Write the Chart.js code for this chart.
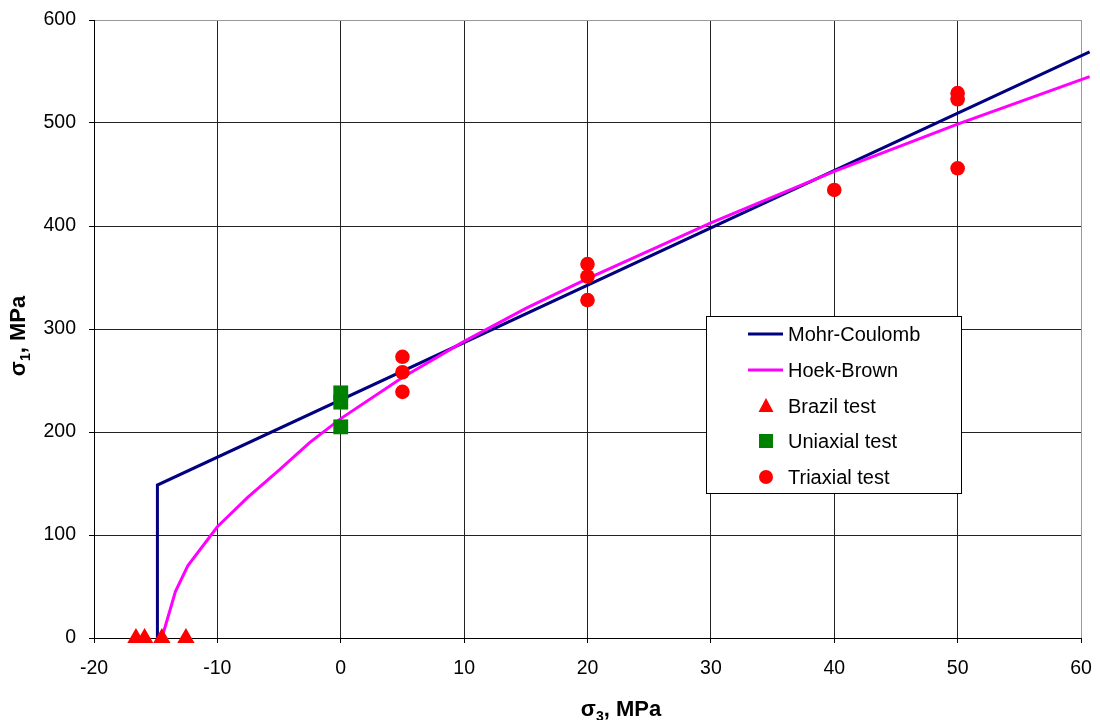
<!DOCTYPE html>
<html>
<head>
<meta charset="utf-8">
<script src="https://cdn.jsdelivr.net/npm/chart.js@4.4.1/dist/chart.umd.min.js"></script>
<style>
html, body { margin: 0; padding: 0; background: #fff; }
#wrap { width: 1100px; height: 720px; }
</style>
</head>
<body>
<div id="wrap"><canvas id="c" width="1100" height="720"></canvas></div>
<script>
// values (sigma3, sigma1 in MPa)
var mohrX = [-14.86, -14.86, 60.7];
var mohrY = [0, 148.5, 569];
var hoekX = [-14.5, -13.4, -12.4, -10, -7.5, -5, -2.5, 0, 5, 10, 15, 20, 30, 40, 50, 60.7];
var hoekY = [0, 45, 70, 108, 137, 163, 190, 213, 253, 288, 320, 349, 403, 453, 499, 545];
var brazilX = [-16.6, -15.9, -14.5, -12.55];
var brazilY = [0, 0, 0, 0];
var uniX = [0, 0, 0];
var uniY = [238, 229, 205];
var triX = [5, 5, 5, 20, 20, 20, 40, 50, 50, 50];
var triY = [273, 258, 239, 363, 351, 328, 435, 529, 523, 456];
var xTicks = [-20, -10, 0, 10, 20, 30, 40, 50, 60];
var yTicks = [0, 100, 200, 300, 400, 500, 600];

var FONT = "'Liberation Sans', Arial, sans-serif";

function pts(xs, ys) {
	var out = [];
	for (var i = 0; i < xs.length; i++) out.push({ x: xs[i], y: ys[i] });
	return out;
}

// scales keep no extra label padding, so the plot area is set by layout.padding
function noPad(s) {
	s.paddingTop = 0; s.paddingBottom = 0; s.paddingLeft = 0; s.paddingRight = 0;
}

// legend + axis titles (subscripts) drawn by hand
var overlay = {
	id: 'overlay',
	afterDraw: function(chart) {
		var ctx = chart.ctx;
		ctx.save();

		// x title
		var big = 'bold 22px ' + FONT, small = 'bold 14px ' + FONT;
		ctx.fillStyle = '#000';
		ctx.textBaseline = 'alphabetic';
		ctx.textAlign = 'left';
		function titleWidth(sub) {
			ctx.font = big; var w = ctx.measureText('σ').width + ctx.measureText(', MPa').width;
			ctx.font = small; w += ctx.measureText(sub).width;
			return w;
		}
		function drawTitle(sub, x, y) {
			ctx.font = big; ctx.fillText('σ', x, y); x += ctx.measureText('σ').width;
			ctx.font = small; ctx.fillText(sub, x, y + 5); x += ctx.measureText(sub).width;
			ctx.font = big; ctx.fillText(', MPa', x, y);
		}
		var w3 = titleWidth('3');
		drawTitle('3', 621 - w3 / 2, 716);

		// y title, rotated
		ctx.save();
		ctx.translate(25, 336);
		ctx.rotate(-Math.PI / 2);
		var w1 = titleWidth('1');
		drawTitle('1', -w1 / 2, 0);
		ctx.restore();

		// legend box
		var bx = 706.5, by = 316.5, bw = 255, bh = 177;
		ctx.fillStyle = '#fff';
		ctx.fillRect(bx, by, bw, bh);
		ctx.strokeStyle = '#000';
		ctx.lineWidth = 1;
		ctx.strokeRect(bx, by, bw, bh);

		var rows = [334, 370, 406, 441, 477];
		var sets = chart.data.datasets;
		ctx.font = '20px ' + FONT;
		ctx.textBaseline = 'middle';
		for (var i = 0; i < sets.length; i++) {
			var d = sets[i], y = rows[i], cx = 766;
			if (d.showLine) {
				ctx.strokeStyle = d.borderColor;
				ctx.lineWidth = 3;
				ctx.beginPath(); ctx.moveTo(748, y); ctx.lineTo(783, y); ctx.stroke();
			} else {
				ctx.fillStyle = d.backgroundColor;
				ctx.beginPath();
				if (d.pointStyle === 'triangle') {
					ctx.moveTo(cx, y - 8); ctx.lineTo(cx + 7.5, y + 6); ctx.lineTo(cx - 7.5, y + 6);
					ctx.closePath();
				} else if (d.pointStyle === 'rect') {
					ctx.rect(cx - 7, y - 7, 14, 14);
				} else {
					ctx.arc(cx, y, 7, 0, Math.PI * 2);
				}
				ctx.fill();
			}
			ctx.fillStyle = '#000';
			ctx.fillText(d.label, 788, y + 1);
		}
		ctx.restore();
	}
};

new Chart(document.getElementById('c'), {
	type: 'scatter',
	data: {
		datasets: [
			{ label: 'Mohr-Coulomb', data: pts(mohrX, mohrY), showLine: true, borderColor: '#000080', backgroundColor: '#000080', borderWidth: 3, pointRadius: 0, tension: 0, clip: false, order: 3 },
			{ label: 'Hoek-Brown', data: pts(hoekX, hoekY), showLine: true, borderColor: '#ff00ff', backgroundColor: '#ff00ff', borderWidth: 3, pointRadius: 0, tension: 0, clip: false, order: 2 },
			{ label: 'Brazil test', data: pts(brazilX, brazilY), pointStyle: 'triangle', pointRadius: 10, backgroundColor: '#ff0000', borderColor: '#ff0000', borderWidth: 0, clip: false, order: 1 },
			{ label: 'Uniaxial test', data: pts(uniX, uniY), pointStyle: 'rect', pointRadius: 10.5, backgroundColor: '#008000', borderColor: '#008000', borderWidth: 0, clip: false, order: 1 },
			{ label: 'Triaxial test', data: pts(triX, triY), pointStyle: 'circle', pointRadius: 7.3, backgroundColor: '#ff0000', borderColor: '#ff0000', borderWidth: 0, clip: false, order: 1 }
		]
	},
	options: {
		responsive: false,
		animation: false,
		layout: { padding: { top: 20, right: 19, left: 0, bottom: 0 } },
		plugins: { legend: { display: false }, tooltip: { enabled: false }, title: { display: false } },
		scales: {
			x: {
				type: 'linear', min: -20, max: 60,
				afterBuildTicks: function(s) { s.ticks = xTicks.map(function(v) { return { value: v }; }); },
				afterFit: function(s) { s.height = 82; noPad(s); },
				ticks: { color: '#000', font: { family: FONT, size: 19.5 }, padding: 14, maxRotation: 0 },
				grid: {
					color: function(c) { return c.tick && c.tick.value === 60 ? '#999' : '#222'; },
					lineWidth: 1, tickLength: 5, tickColor: '#000'
				},
				border: { color: '#000', width: 1 }
			},
			y: {
				type: 'linear', min: 0, max: 600,
				afterBuildTicks: function(s) { s.ticks = yTicks.map(function(v) { return { value: v }; }); },
				afterFit: function(s) { s.width = 94; noPad(s); },
				ticks: { color: '#000', font: { family: FONT, size: 19.5 }, padding: 13 },
				grid: {
					color: function(c) { return c.tick && c.tick.value === 600 ? '#999' : '#222'; },
					lineWidth: 1, tickLength: 5, tickColor: '#000'
				},
				border: { color: '#000', width: 1 }
			}
		}
	},
	plugins: [overlay]
});
</script>
</body>
</html>
